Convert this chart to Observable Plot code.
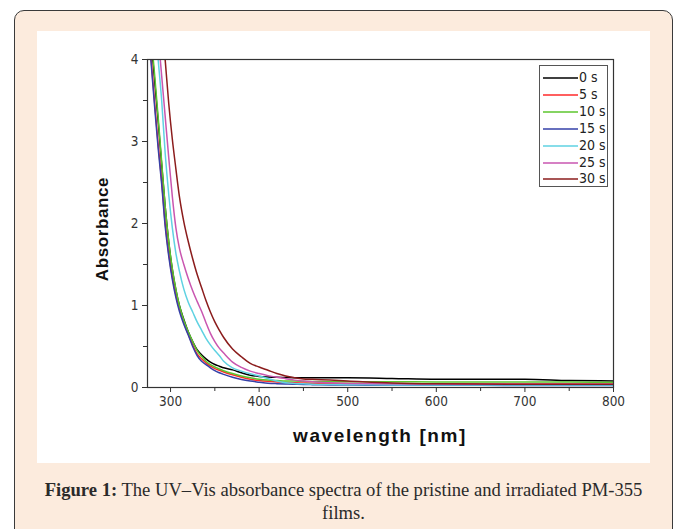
<!DOCTYPE html>
<html><head><meta charset="utf-8">
<script src="https://cdn.jsdelivr.net/npm/d3@7"></script>
<script src="https://cdn.jsdelivr.net/npm/@observablehq/plot@0.6"></script>
<style>
html,body{margin:0;padding:0;background:#fff;}
body{width:677px;height:529px;overflow:hidden;position:relative;font-family:"Liberation Sans",Arial,sans-serif;}
#card{position:absolute;left:14px;top:10px;width:659px;height:560px;border:1.3px solid #3a3a3a;border-radius:10px;background:#fcebdd;box-sizing:border-box;}
#panel{position:absolute;left:37px;top:31px;width:613px;height:432px;background:#fff;}
#chart{position:absolute;left:37px;top:31px;}
.narrow{font-family:"Liberation Sans Narrow","DejaVu Sans Condensed","Arial Narrow",sans-serif;font-stretch:condensed;}
#ylab{position:absolute;left:103px;top:229px;transform:translate(-50%,-50%) rotate(-90deg);font-weight:bold;font-size:17px;letter-spacing:0.6px;color:#111;white-space:nowrap;}
#xlab{position:absolute;left:380px;top:436px;transform:translate(-50%,-50%);font-weight:bold;font-size:19px;letter-spacing:1.6px;color:#111;white-space:nowrap;}
#legend{position:absolute;left:539px;top:65px;width:69px;height:122px;border:1px solid #555;background:#fff;box-sizing:border-box;}
.lg{position:absolute;left:0;height:17px;width:69px;}
.lg svg{position:absolute;left:3px;top:0;}
.lg span{position:absolute;left:39px;top:0;line-height:17px;font-size:14px;color:#222;}
#caption{position:absolute;left:14px;width:659px;top:478px;text-align:center;font-family:"Liberation Serif","DejaVu Serif",serif;font-size:18.6px;line-height:23px;color:#2a2a2a;}
</style>
</head><body>
<div id="card"></div>
<div id="panel"></div>
<div id="chart"></div>
<div id="ylab">Absorbance</div>
<div id="xlab">wavelength [nm]</div>
<div id="legend"></div>
<div id="caption"><b>Figure 1:</b> The UV–Vis absorbance spectra of the pristine and irradiated PM-355<br>films.</div>
<script>
// wavelength grid (nm)
const wavelengths = [274, 278, 282, 286, 290, 294, 298, 302, 306, 310, 315, 320, 325, 330, 335, 340, 345, 350, 355, 360, 370, 380, 390, 400, 410, 420, 430, 440, 450, 460, 480, 500, 550, 600, 650, 700, 750, 800];

// absorbance values (null = off-scale / not visible)
const abs0s  = [4.75, 4.25, 3.75, 3.25, 2.72, 2.2, 1.77, 1.44, 1.19, 1.0, 0.83, 0.68, 0.56, 0.46, 0.4, 0.35, 0.31, 0.28, 0.26, 0.24, 0.215, 0.18, 0.15, 0.135, 0.128, 0.124, 0.122, 0.12, 0.12, 0.12, 0.118, 0.118, 0.11, 0.1, 0.1, 0.1, 0.085, 0.08];
const abs5s  = [4.55, 4.02, 3.48, 2.97, 2.52, 2.0, 1.63, 1.35, 1.13, 0.96, 0.79, 0.65, 0.52, 0.41, 0.35, 0.3, 0.26, 0.23, 0.21, 0.19, 0.155, 0.125, 0.1, 0.085, 0.075, 0.068, 0.062, 0.058, 0.055, 0.052, 0.05, 0.048, 0.045, 0.045, 0.044, 0.043, 0.042, 0.04];
const abs10s = [4.8, 4.3, 3.82, 3.3, 2.75, 2.2, 1.78, 1.45, 1.2, 1.0, 0.82, 0.68, 0.56, 0.45, 0.38, 0.32, 0.28, 0.25, 0.225, 0.205, 0.17, 0.14, 0.12, 0.1, 0.09, 0.085, 0.08, 0.078, 0.075, 0.072, 0.07, 0.07, 0.07, 0.068, 0.068, 0.068, 0.066, 0.065];
const abs15s = [4.5, 3.97, 3.43, 2.92, 2.48, 1.96, 1.6, 1.32, 1.1, 0.93, 0.77, 0.64, 0.5, 0.39, 0.32, 0.28, 0.24, 0.205, 0.18, 0.16, 0.125, 0.097, 0.078, 0.065, 0.053, 0.047, 0.043, 0.04, 0.037, 0.035, 0.032, 0.03, 0.028, 0.027, 0.026, 0.025, 0.025, 0.025];
const abs20s = [null, 5.0, 4.5, 4.0, 3.5, 2.85, 2.35, 1.95, 1.64, 1.42, 1.2, 1.04, 0.92, 0.8, 0.7, 0.6, 0.52, 0.45, 0.39, 0.32, 0.24, 0.2, 0.168, 0.14, 0.11, 0.078, 0.058, 0.05, 0.045, 0.04, 0.036, 0.034, 0.032, 0.03, 0.03, 0.03, 0.03, 0.03];
const abs25s = [null, 5.2, 4.75, 4.3, 3.8, 3.3, 2.8, 2.33, 1.95, 1.7, 1.5, 1.33, 1.18, 1.05, 0.93, 0.79, 0.66, 0.56, 0.48, 0.42, 0.31, 0.245, 0.2, 0.17, 0.145, 0.125, 0.108, 0.09, 0.08, 0.07, 0.058, 0.05, 0.045, 0.042, 0.04, 0.04, 0.04, 0.04];
const abs30s = [null, null, null, null, 4.5, 3.99, 3.46, 3.03, 2.67, 2.33, 2.02, 1.78, 1.57, 1.38, 1.22, 1.06, 0.92, 0.8, 0.7, 0.61, 0.47, 0.375, 0.295, 0.25, 0.21, 0.17, 0.14, 0.12, 0.105, 0.1, 0.09, 0.08, 0.055, 0.045, 0.042, 0.04, 0.04, 0.04];

const seriesNames = ["0 s", "5 s", "10 s", "15 s", "20 s", "25 s", "30 s"];
const seriesColors = ["#000000", "#ff2a2a", "#5cc62e", "#3540a8", "#5fd2e2", "#c956b0", "#8b1c1c"];
const seriesValues = [abs0s, abs5s, abs10s, abs15s, abs20s, abs25s, abs30s];

const xMajorTicks = [300, 400, 500, 600, 700, 800];
const xMinorTicks = [350, 450, 550, 650, 750];
const yMajorTicks = [0, 1, 2, 3, 4];
const yMinorTicks = [0.5, 1.5, 2.5, 3.5];

const rows = [];
seriesNames.forEach((name, s) => {
  seriesValues[s].forEach((v, i) => {
    if (v != null) rows.push({wl: wavelengths[i], a: v, series: name});
  });
});

const tickFont = "'Liberation Sans Narrow','DejaVu Sans Condensed','Arial Narrow',sans-serif";

const chart = Plot.plot({
  width: 613,
  height: 432,
  marginLeft: 110,
  marginRight: 37,
  marginTop: 28,
  marginBottom: 76,
  style: {fontFamily: tickFont, fontSize: "13.5px", color: "#333", background: "transparent", fontStretch: "condensed"},
  x: {domain: [274, 800], label: null},
  y: {domain: [0, 4], label: null},
  color: {domain: seriesNames, range: seriesColors},
  marks: [
    Plot.line(rows, {x: "wl", y: "a", z: "series", stroke: "series", strokeWidth: 1.5, curve: "monotone-x", clip: true}),
    Plot.frame({stroke: "#333", strokeWidth: 1.2}),
    Plot.axisX({ticks: xMajorTicks, tickSize: 5, tickPadding: 4, label: null, stroke: "#333", tickFormat: d => String(d)}),
    Plot.axisX({ticks: xMinorTicks, tickSize: 4, tickFormat: () => "", label: null, stroke: "#333"}),
    Plot.axisY({ticks: yMajorTicks, tickSize: 5, tickPadding: 4, label: null, stroke: "#333", tickFormat: d => String(d)}),
    Plot.axisY({ticks: yMinorTicks, tickSize: 4, tickFormat: () => "", label: null, stroke: "#333"})
  ]
});
document.getElementById("chart").appendChild(chart);

// legend
const lg = document.getElementById("legend");
seriesNames.forEach((name, i) => {
  const d = document.createElement("div");
  d.className = "lg";
  d.style.top = (3 + i * 16.9) + "px";
  d.innerHTML = `<svg width="36" height="17"><line x1="0" x2="35" y1="9" y2="9" stroke="${seriesColors[i]}" stroke-width="1.6"/></svg><span class="narrow">${name}</span>`;
  lg.appendChild(d);
});
</script>
</body></html>
